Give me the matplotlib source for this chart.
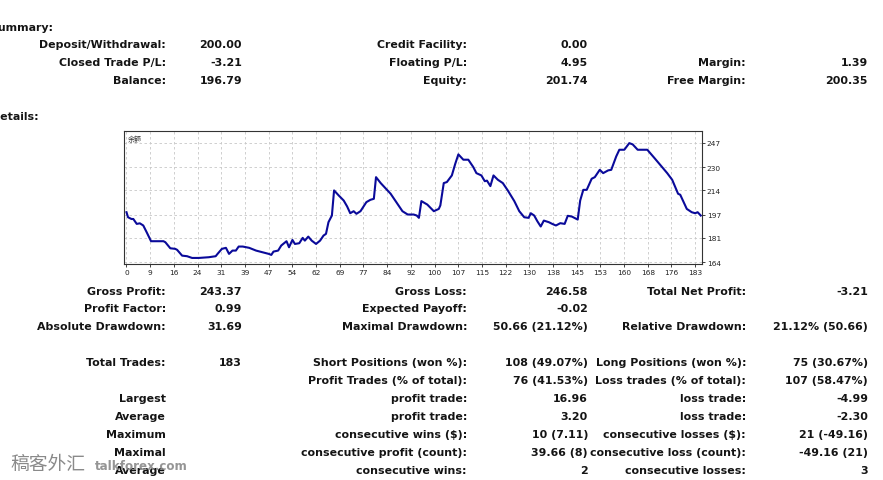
import numpy as np
import matplotlib
matplotlib.use("Agg")
import matplotlib.pyplot as plt

plt.rcParams['font.family'] = ['DejaVu Sans', 'Noto Sans CJK SC']

# balance curve (trade number, balance)
trade_no = [0, 0.5, 1.6, 2.2, 3.3, 4.3, 5.4, 6.5, 7.9, 9.2, 11.9, 12.5, 14.1, 15.7, 16.3,
            17.9, 19.5, 21.1, 23.3, 26.5, 28.7, 29.3, 30.7, 32.0, 33.0, 34.1, 35.2, 36.1,
            37.4, 39.5, 41.7, 43.9, 45.8, 46.6, 47.3, 48.8, 49.8, 51.5, 52.3, 53.4, 54.2,
            55.6, 56.7, 57.4, 58.5, 59.6, 61.0, 62.3, 63.4, 64.2, 65.0, 66.1, 66.8, 68.3,
            69.9, 71.0, 72.0, 73.1, 74.0, 75.3, 77.2, 78.5, 79.6, 80.3, 81.8, 85.0, 87.2,
            88.8, 90.5, 92.4, 93.4, 94.1, 94.9, 96.8, 98.9, 100.5, 101.0, 102.1, 103.1,
            104.7, 105.8, 106.8, 108.4, 110.0, 111.6, 112.6, 114.2, 115.3, 116.0, 117.1,
            118.1, 119.5, 121.1, 122.7, 124.8, 126.4, 128.0, 129.4, 130.1, 131.2, 132.2,
            133.3, 134.3, 135.9, 137.0, 138.2, 139.6, 141.0, 142.0, 143.3, 145.2, 146.0,
            147.0, 148.1, 149.7, 150.7, 152.3, 153.4, 155.0, 156.0, 157.6, 158.6, 160.2,
            161.8, 162.9, 164.5, 167.6, 169.8, 171.9, 174.0, 175.6, 177.5, 178.2, 180.3,
            181.9, 183.0, 183.8, 184.8]
balance = [198.7, 195.2, 194.0, 194.0, 190.6, 191.0, 189.5, 184.8, 178.6, 178.6, 178.6,
           177.9, 173.7, 173.3, 172.6, 168.6, 168.2, 167.0, 167.0, 167.5, 168.2, 169.8,
           173.3, 174.0, 169.8, 172.1, 172.1, 174.9, 174.9, 174.0, 172.1, 170.9, 169.8,
           169.1, 171.4, 172.1, 175.6, 178.6, 174.4, 179.5, 176.7, 177.2, 180.9, 179.0,
           181.8, 179.0, 176.7, 179.0, 182.5, 183.7, 191.8, 196.4, 213.8, 210.3, 206.8,
           202.7, 198.0, 199.4, 197.6, 199.4, 205.7, 207.3, 208.0, 223.0, 218.9, 211.5,
           204.5, 199.4, 197.1, 197.1, 196.4, 194.8, 206.4, 204.0, 199.4, 201.0, 203.4,
           218.9, 219.6, 224.2, 232.3, 238.8, 235.1, 235.1, 230.0, 225.8, 224.2, 220.2,
           220.6, 216.8, 224.2, 221.2, 218.9, 213.8, 206.4, 199.4, 195.2, 194.8, 198.0,
           196.4, 192.5, 188.8, 192.9, 191.8, 190.6, 189.5, 191.1, 190.6, 196.2, 195.7,
           193.6, 206.8, 214.2, 214.2, 221.9, 223.0, 228.1, 225.8, 227.7, 228.1, 237.4,
           242.0, 242.0, 246.6, 245.7, 242.0, 242.0, 236.5, 231.1, 225.8, 221.2, 211.5,
           210.8, 201.0, 198.7, 198.0, 198.7, 196.4]

x_labels = ['0', '9', '16', '24', '31', '39', '47', '54', '62', '69', '77', '84', '92',
            '100', '107', '115', '122', '130', '138', '145', '153', '160', '168', '176', '183']
y_ticks = [164, 181, 197, 214, 230, 247]

summary_rows = [
    ["Deposit/Withdrawal:", "200.00", "Credit Facility:", "0.00", "", ""],
    ["Closed Trade P/L:", "-3.21", "Floating P/L:", "4.95", "Margin:", "1.39"],
    ["Balance:", "196.79", "Equity:", "201.74", "Free Margin:", "200.35"],
]
detail_rows = [
    ["Gross Profit:", "243.37", "Gross Loss:", "246.58", "Total Net Profit:", "-3.21"],
    ["Profit Factor:", "0.99", "Expected Payoff:", "-0.02", "", ""],
    ["Absolute Drawdown:", "31.69", "Maximal Drawdown:", "50.66 (21.12%)",
     "Relative Drawdown:", "21.12% (50.66)"],
]
trade_rows = [
    ["Total Trades:", "183", "Short Positions (won %):", "108 (49.07%)",
     "Long Positions (won %):", "75 (30.67%)"],
    ["", "", "Profit Trades (% of total):", "76 (41.53%)",
     "Loss trades (% of total):", "107 (58.47%)"],
    ["Largest", "", "profit trade:", "16.96", "loss trade:", "-4.99"],
    ["Average", "", "profit trade:", "3.20", "loss trade:", "-2.30"],
    ["Maximum", "", "consecutive wins ($):", "10 (7.11)", "consecutive losses ($):", "21 (-49.16)"],
    ["Maximal", "", "consecutive profit (count):", "39.66 (8)",
     "consecutive loss (count):", "-49.16 (21)"],
    ["Average", "", "consecutive wins:", "2", "consecutive losses:", "3"],
]

W, H = 883, 481
fig = plt.figure(figsize=(W / 100, H / 100), dpi=100)
fig.patch.set_facecolor('white')

def px(x, y):
    return x / W, 1 - y / H

col_x = [166, 242, 467, 588, 746, 868]
txt_color = '#141414'
fs = 7.95

def put_rows(rows, y0, step):
    for r, row in enumerate(rows):
        y = y0 + r * step
        for c, s in enumerate(row):
            if s:
                fig.text(*px(col_x[c], y), s, ha='right', va='center',
                         fontsize=fs, fontweight='bold', color=txt_color)

fig.text(*px(-9.5, 28), "Summary:", ha='left', va='center', fontsize=fs,
         fontweight='bold', color=txt_color)
fig.text(*px(-9, 117), "Details:", ha='left', va='center', fontsize=fs,
         fontweight='bold', color=txt_color)
put_rows(summary_rows, 45, 18)
put_rows(detail_rows, 292, 17.5)
put_rows(trade_rows, 363, 18)

# balance chart
ax = fig.add_axes([124 / W, 1 - 265 / H, 578 / W, 133 / H])
ax.plot(trade_no, balance, color='#0a0a9a', lw=1.5)
ax.set_xlim(-0.8, 185.2)
ax.set_ylim(162.8, 255)
ax.set_xticks(np.linspace(0, 183, 25))
ax.set_xticklabels(x_labels)
ax.set_yticks(y_ticks)
ax.yaxis.tick_right()
ax.tick_params(labelsize=5.3, length=2, width=0.6, pad=1.5, colors='#222222')
ax.grid(True, color='#c8c8c8', lw=0.6, linestyle=(0, (3, 3)))
for sp in ax.spines.values():
    sp.set_linewidth(0.8)
    sp.set_color('#333333')
ax.text(0.006, 0.97, "余额", transform=ax.transAxes, ha='left', va='top',
        fontsize=5, color='#333333', family=['Noto Sans CJK SC', 'DejaVu Sans'])

# watermark
fig.text(*px(10, 465), "稿客外汇", ha='left', va='center', fontsize=13.5,
         color='#8a8a8a', family=['Noto Sans CJK SC', 'DejaVu Sans'])
fig.text(*px(95, 466), "talkforex.com", ha='left', va='center', fontsize=8.6,
         color='#8a8a8a', fontweight='bold', alpha=0.9)

fig.savefig("out.png", dpi=100)
